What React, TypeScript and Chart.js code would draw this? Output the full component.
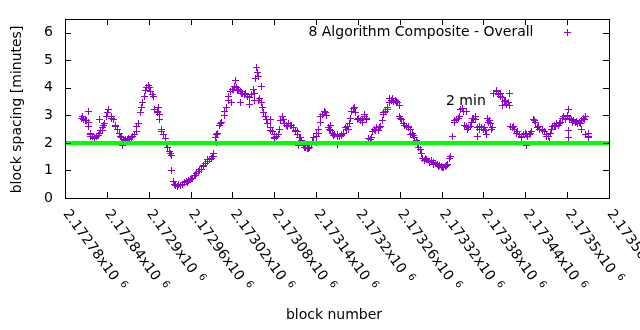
import { useEffect, useRef } from "react";
import { Chart, registerables } from "chart.js";

Chart.register(...registerables);

// ---- data ----
const startBlock = 2172804;
const blockStep = 3;
const spacingMinutes = [
  2.88, 2.85, 2.82, 2.75, 2.3, 2.22, 2.2, 2.22, 2.28, 2.45,
  2.55, 2.7, 2.95, 3.2, 2.95, 2.85, 2.65, 2.5, 2.35, 2.18,
  2.12, 2.13, 2.12, 2.14, 2.18, 2.3, 2.42, 2.7, 3.1, 3.45,
  3.7, 4.0, 4.1, 3.85, 3.75, 3.2, 3.15, 3.05, 2.5, 2.3,
  2.15, 1.85, 1.7, 1.55, 0.6, 0.45, 0.42, 0.45, 0.5, 0.55,
  0.6, 0.62, 0.68, 0.72, 0.8, 0.88, 0.95, 1.05, 1.15, 1.25,
  1.32, 1.4, 1.45, 1.5, 2.2, 2.35, 2.65, 2.75, 3.0, 3.3,
  3.55, 3.85, 3.95, 4.05, 4.0, 3.95, 3.85, 3.8, 3.75, 3.7,
  3.65, 3.75, 3.95, 4.35, 4.55, 3.6, 3.45, 3.1, 2.95, 2.7,
  2.55, 2.4, 2.3, 2.25, 2.3, 2.8, 2.95, 2.7, 2.65, 2.7,
  2.62, 2.55, 2.45, 2.3, 2.2, 2.1, 1.9, 1.85, 1.8, 1.85,
  1.95, 2.2, 2.25, 2.5, 2.75, 3.05, 3.15, 3.0, 2.55, 2.45,
  2.35, 2.3, 2.25, 2.25, 2.3, 2.35, 2.55, 2.6, 2.7, 3.15,
  3.25, 3.1, 2.85, 2.8, 2.75, 2.95, 2.85, 2.15, 2.12, 2.4,
  2.5, 2.55, 2.45, 2.6, 3.1, 3.15, 3.2, 3.45, 3.55, 3.5,
  3.55, 3.45, 2.95, 2.85, 2.7, 2.6, 2.55, 2.5, 2.35, 2.2,
  2.1, 1.85, 1.75, 1.45, 1.35, 1.4, 1.3, 1.35, 1.28, 1.25,
  1.2, 1.18, 1.15, 1.12, 1.15, 1.2, 1.45, 2.25, 2.8, 2.85,
  2.9, 3.2, 3.25, 2.65, 2.6, 2.55, 2.6, 2.9, 2.95, 2.55,
  2.6, 2.55, 2.5, 2.45, 2.9, 2.8, 2.5, 3.8, 3.85, 3.75,
  3.8, 3.65, 3.5, 3.4, 3.45, 2.6, 2.55, 2.5, 2.35, 2.3,
  2.25, 2.3, 2.35, 2.25, 2.3, 2.4, 2.85, 2.75, 2.55, 2.5,
  2.45, 2.4, 2.3, 2.25, 2.35, 2.6, 2.65, 2.7, 2.65, 2.75,
  2.9, 2.85, 2.95, 2.9, 2.85, 2.8, 2.75, 2.7, 2.75, 2.8,
  2.9, 2.3, 2.2,
];
// in-between blocks (denser clusters)
const midStartBlock = 2172805;
const midBlockStep = 6;
const midSpacingMinutes = [
  2.95, 2.8, 2.25, 2.15, 2.35, 2.62, 3.1, 2.88, 2.6, 2.25,
  2.1, 2.16, 2.22, 2.6, 3.3, 3.9, 4.0, 3.7, 3.1, 2.42,
  1.95, 1.62, 0.5, 0.48, 0.5, 0.58, 0.72, 0.82, 1.02, 1.18,
  1.38, 1.52, 2.3, 2.7, 3.15, 3.7, 3.95, 3.9, 3.8, 3.78,
  3.65, 3.8, 3.55, 3.3, 2.85, 2.45, 2.2, 2.5, 2.85, 2.6,
  2.65, 2.4, 2.18, 1.82, 1.78, 2.05, 2.35, 2.95, 3.1, 2.5,
  2.28, 2.3, 2.28, 2.5, 2.9, 3.3, 2.9, 2.85, 2.9, 2.2,
  2.45, 2.55, 3.05, 3.3, 3.6, 3.5, 2.9, 2.65, 2.58, 2.28,
  2.0, 1.6, 1.42, 1.32, 1.22, 1.15, 1.1, 1.18, 1.5, 2.75,
  2.95, 3.15, 2.5, 2.75, 2.85, 2.5, 2.55, 2.75, 2.55, 3.9,
  3.7, 3.55, 3.35, 2.6, 2.4, 2.2, 2.3, 2.35, 2.8, 2.6,
  2.5, 2.25, 2.5, 2.6, 2.72, 2.95, 3.0, 2.75, 2.78, 2.72,
  2.85, 2.25,
];
const outlierBlocks = [
  2172813, 2172814, 2172816, 2172830, 2172834, 2172863, 2172885, 2172914,
  2172916, 2172933, 2172993, 2172997, 2173019, 2173025, 2173031, 2173045,
  2173052, 2173054, 2173058, 2173062, 2173074, 2173080, 2173114, 2173115,
  2173140, 2173144, 2173160, 2173170, 2173187, 2173210, 2173235, 2173245,
  2173260, 2173275, 2173286, 2173355, 2173364, 2173372, 2173385, 2173390,
  2173408, 2173418, 2173442, 2173475, 2173502, 2173502, 2173502, 2173521,
  2173526, 2173530,
];
const outlierMinutes = [
  3.15, 2.6, 2.35, 2.85, 2.45, 1.9, 2.7, 3.3,
  2.85, 1.0, 1.6, 2.0, 3.45, 4.25, 3.45, 3.4,
  3.55, 4.75, 4.4, 4.05, 2.85, 2.15, 2.4, 1.9,
  2.0, 2.35, 2.65, 1.93, 2.5, 3.05, 2.8, 3.6,
  3.35, 2.3, 1.95, 3.15, 2.9, 2.25, 2.3, 2.7,
  3.35, 3.8, 1.9, 2.05, 3.2, 2.45, 2.2, 2.5,
  2.95, 2.35,
];
const targetMinutes = 2;
const xTickValues = [
  2172780, 2172840, 2172900, 2172960, 2173020, 2173080, 2173140,
  2173200, 2173260, 2173320, 2173380, 2173440, 2173500, 2173560,
];
const xTickLabels = [
  "2.17278", "2.17284", "2.1729", "2.17296", "2.17302", "2.17308", "2.17314",
  "2.1732", "2.17326", "2.17332", "2.17338", "2.17344", "2.1735", "2.17356",
];
const yTickValues = [0, 1, 2, 3, 4, 5, 6];
const xMin = 2172780;
const xMax = 2173560;
const yMin = 0;
const yMax = 6.5;
const seriesTitle = "8 Algorithm Composite - Overall";
const lineLabel = "2 min";
const xTitle = "block number";
const yTitle = "block spacing [minutes]";

const PURPLE = "#9400d3";
const FONT = '"DejaVu Sans", sans-serif';

function makeCross(): HTMLCanvasElement {
  const c = document.createElement("canvas");
  c.width = 7;
  c.height = 7;
  const g = c.getContext("2d")!;
  g.fillStyle = PURPLE;
  g.fillRect(0, 3, 7, 1);
  g.fillRect(3, 0, 1, 7);
  return c;
}

const decorPlugin = {
  id: "gnuplotDecor",
  beforeDatasetsDraw(chart: any) {
    chart.ctx.save();
    chart.ctx.imageSmoothingEnabled = false;
  },
  afterDatasetsDraw(chart: any) {
    chart.ctx.restore();
  },
  afterDraw(chart: any) {
    const ctx = chart.ctx as CanvasRenderingContext2D;
    const { left, right, top, bottom } = chart.chartArea;
    const xs = chart.scales.x;
    const ys = chart.scales.y;
    ctx.save();
    ctx.strokeStyle = "#000";
    ctx.lineWidth = 1;
    ctx.strokeRect(Math.round(left) + 0.5, Math.round(top) + 0.5, Math.round(right - left), Math.round(bottom - top));
    ctx.beginPath();
    yTickValues.forEach((v) => {
      const y = Math.round(ys.getPixelForValue(v)) + 0.5;
      ctx.moveTo(left, y);
      ctx.lineTo(left + 6, y);
      ctx.moveTo(right, y);
      ctx.lineTo(right - 6, y);
    });
    xTickValues.forEach((v) => {
      const x = Math.round(xs.getPixelForValue(v)) + 0.5;
      ctx.moveTo(x, bottom);
      ctx.lineTo(x, bottom - 6);
      ctx.moveTo(x, top);
      ctx.lineTo(x, top + 6);
    });
    ctx.stroke();

    ctx.fillStyle = "#000";
    ctx.font = `14px ${FONT}`;
    ctx.textAlign = "right";
    ctx.textBaseline = "middle";
    yTickValues.forEach((v) => {
      ctx.fillText(String(v), left - 12, ys.getPixelForValue(v));
    });
    const ang = (54 * Math.PI) / 180;
    xTickValues.forEach((v, i) => {
      const x = xs.getPixelForValue(v);
      ctx.save();
      ctx.translate(x + 0.7, bottom + 13.4);
      ctx.rotate(ang);
      ctx.textAlign = "left";
      ctx.textBaseline = "middle";
      ctx.font = `14px ${FONT}`;
      const main = xTickLabels[i] + "x10";
      ctx.fillText(main, 0, 0);
      const w = ctx.measureText(main).width;
      ctx.font = `10px ${FONT}`;
      ctx.fillText("6", w + 6, -4);
      ctx.restore();
    });
    ctx.font = `14px ${FONT}`;
    ctx.textAlign = "center";
    ctx.textBaseline = "middle";
    ctx.fillText(xTitle, 334, 315);
    ctx.save();
    ctx.translate(17.5, 109.5);
    ctx.rotate(-Math.PI / 2);
    ctx.fillText(yTitle, 0, 0);
    ctx.restore();
    ctx.textAlign = "right";
    ctx.fillText(seriesTitle, 533.5, 32);
    ctx.fillStyle = PURPLE;
    ctx.fillRect(564, 32, 7, 1);
    ctx.fillRect(567, 29, 1, 7);
    ctx.fillStyle = "#000";
    ctx.textAlign = "left";
    ctx.fillText(lineLabel, 446, 101.5);
    ctx.restore();
  },
};

export default function App() {
  const ref = useRef<HTMLCanvasElement | null>(null);
  useEffect(() => {
    document.body.style.margin = "0";
    const canvas = ref.current;
    if (!canvas) return;
    const points = spacingMinutes.map((v, i) => ({ x: startBlock + i * blockStep, y: v }));
    midSpacingMinutes.forEach((v, i) => points.push({ x: midStartBlock + i * midBlockStep, y: v }));
    outlierBlocks.forEach((b, i) => points.push({ x: b, y: outlierMinutes[i] }));
    const cross = makeCross();
    const chart = new Chart(canvas, {
      type: "scatter",
      data: {
        datasets: [
          {
            type: "line",
            data: [
              { x: xMin, y: targetMinutes },
              { x: xMax, y: targetMinutes },
            ],
            borderColor: "#00ff00",
            borderWidth: 4,
            pointRadius: 0,
            order: 0,
          } as any,
          {
            data: points,
            pointStyle: cross,
            pointRadius: 3.5,
            borderColor: PURPLE,
            backgroundColor: PURPLE,
            order: 1,
          } as any,
        ],
      },
      options: {
        responsive: false,
        animation: false,
        layout: { padding: { left: 65, right: 31, top: 19, bottom: 132 } },
        scales: {
          x: { type: "linear", min: xMin, max: xMax, display: false },
          y: { type: "linear", min: yMin, max: yMax, display: false },
        },
        plugins: { legend: { display: false }, tooltip: { enabled: false } },
      },
      plugins: [decorPlugin],
    });
    return () => chart.destroy();
  }, []);
  return (
    <div style={{ width: 640, height: 330, background: "#fff" }}>
      <canvas ref={ref} width={640} height={330} style={{ display: "block" }} />
    </div>
  );
}
